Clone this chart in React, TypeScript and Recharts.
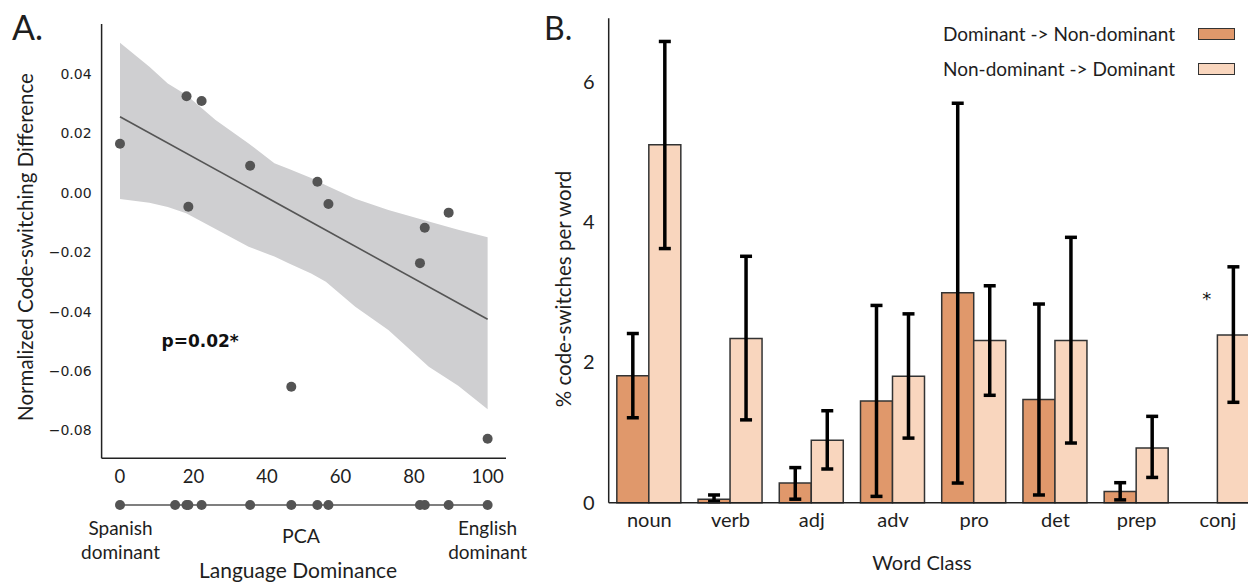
import React from 'react';
import {
  ComposedChart,
  Area,
  Line,
  Scatter,
  XAxis,
  YAxis,
  BarChart,
  Bar,
  ErrorBar,
  Legend,
} from 'recharts';

// ---------- Panel A data ----------
const dominancePCA = [0, 18.1, 22.2, 18.6, 35.4, 53.7, 56.7, 82.9, 89.4, 81.6, 46.6, 100];
const csDifference = [0.0165, 0.0325, 0.0309, -0.0047, 0.0091, 0.0037, -0.0038, -0.0118, -0.0067, -0.0237, -0.0653, -0.0828];
const stripPCA = [0, 15, 18.1, 18.6, 22.2, 35.4, 46.6, 53.7, 56.7, 81.6, 82.9, 89.4, 100];
const bandX = [0, 8, 13, 18, 26, 35, 42, 46, 52, 56, 64, 73, 84, 92, 100];
const bandLow = [-0.0021, -0.0034, -0.0048, -0.0069, -0.0122, -0.0182, -0.0215, -0.0238, -0.0272, -0.03, -0.0384, -0.0462, -0.0586, -0.065, -0.0729];
const bandHigh = [0.0505, 0.0424, 0.0368, 0.033, 0.0245, 0.0166, 0.0099, 0.008, 0.005, 0.0025, -0.002, -0.0058, -0.0097, -0.0125, -0.015];
const fitX = [0, 100];
const fitY = [0.0256, -0.0426];
const xTicksA = [0, 20, 40, 60, 80, 100];
const yTicksA = [-0.08, -0.06, -0.04, -0.02, 0, 0.02, 0.04];

// ---------- Panel B data ----------
const wordClasses = ['noun', 'verb', 'adj', 'adv', 'pro', 'det', 'prep', 'conj'];
const domToNon = [1.81, 0.05, 0.28, 1.45, 2.99, 1.47, 0.16, 0];
const domToNonLow = [1.21, 0.015, 0.05, 0.09, 0.28, 0.11, 0.04, 0];
const domToNonHigh = [2.41, 0.11, 0.5, 2.81, 5.69, 2.83, 0.285, 0];
const nonToDom = [5.1, 2.34, 0.89, 1.8, 2.31, 2.31, 0.78, 2.39];
const nonToDomLow = [3.62, 1.18, 0.48, 0.92, 1.53, 0.85, 0.36, 1.43];
const nonToDomHigh = [6.57, 3.51, 1.31, 2.69, 3.09, 3.78, 1.23, 3.36];
const yTicksB = [0, 2, 4, 6];
const seriesNames = ['Dominant -> Non-dominant', 'Non-dominant -> Dominant'];

const DARK = '#e0986b';
const LIGHT = '#f9d6be';
const GREY = '#545454';
const TEXT = '#1e1e1e';
const FONT = 'Lato, "Open Sans", sans-serif';
const DEJAVU = '"DejaVu Sans", sans-serif';

const bandData = bandX.map((x, i) => {
  const fi = fitX.indexOf(x);
  return { x, band: [bandLow[i], bandHigh[i]], fit: fi >= 0 ? fitY[fi] : null };
});
const pointData = dominancePCA.map((x, i) => ({ x, y: csDifference[i] }));
const stripData = stripPCA.map((x) => ({ x, y: 0 }));

const barData = wordClasses.map((cls, i) => ({
  cls,
  dn: domToNon[i],
  dnErr: [domToNon[i] - domToNonLow[i], domToNonHigh[i] - domToNon[i]],
  nd: nonToDom[i],
  ndErr: [nonToDom[i] - nonToDomLow[i], nonToDomHigh[i] - nonToDom[i]],
}));

const fmtA = (v: number) => v.toFixed(2).replace('-', '\u2212');

const Dot = (props: any) => {
  const { cx, cy } = props;
  if (cx == null || cy == null) return null;
  return <circle cx={cx} cy={cy} r={5} fill={GREY} />;
};

const renderLegend = (props: any) => {
  const payload = props.payload || [];
  return (
    <div style={{ fontFamily: FONT, fontSize: 19, color: TEXT }}>
      {payload.map((e: any, i: number) => (
        <div key={i} style={{ display: 'flex', alignItems: 'center', height: 35 }}>
          <span style={{ width: 245, textAlign: 'right', whiteSpace: 'nowrap' }}>{e.value}</span>
          <span
            style={{
              display: 'inline-block',
              width: 37,
              height: 12,
              marginLeft: 23,
              background: e.color,
              border: '1.5px solid #333',
              boxSizing: 'border-box',
            }}
          />
        </div>
      ))}
    </div>
  );
};

export default function App() {
  return (
    <div
      style={{
        position: 'absolute',
        left: 0,
        top: 0,
        width: 1248,
        height: 584,
        overflow: 'hidden',
        background: '#fff',
        fontFamily: FONT,
      }}
    >
      {/* Panel A main */}
      <div style={{ position: 'absolute', left: 0, top: 0 }}>
        <ComposedChart
          width={520}
          height={500}
          data={bandData}
          margin={{ top: 24, right: 14, bottom: 1.7, left: 41.6 }}
        >
          <XAxis
            type="number"
            dataKey="x"
            domain={[-5, 105]}
            ticks={xTicksA}
            allowDataOverflow
            tickLine={false}
            axisLine={{ stroke: '#222', strokeWidth: 1.5 }}
            tick={{ fill: TEXT, fontSize: 18.5, fontFamily: FONT }}
            tickMargin={6}
            height={40}
          />
          <YAxis
            type="number"
            domain={[-0.0894, 0.0568]}
            ticks={yTicksA}
            allowDataOverflow
            tickFormatter={fmtA}
            tickLine={false}
            axisLine={{ stroke: '#222', strokeWidth: 1.5 }}
            tick={{ fill: TEXT, fontSize: 14, fontFamily: DEJAVU }}
            tickMargin={4}
            width={60}
          />
          <Area
            dataKey="band"
            type="linear"
            fill="#cfcfd1"
            fillOpacity={1}
            stroke="none"
            isAnimationActive={false}
          />
          <Line
            dataKey="fit"
            type="linear"
            stroke="#555"
            strokeWidth={1.6}
            dot={false}
            connectNulls
            isAnimationActive={false}
          />
          <Scatter data={pointData} dataKey="y" fill={GREY} shape={Dot} isAnimationActive={false} />
        </ComposedChart>
      </div>

      {/* Panel A strip (PCA rug) */}
      <div style={{ position: 'absolute', left: 0, top: 495.3 }}>
        <ComposedChart width={520} height={20} margin={{ top: 0, right: 14, bottom: 0, left: 101.6 }}>
          <XAxis type="number" dataKey="x" domain={[-5, 105]} hide />
          <YAxis type="number" domain={[-1, 1]} hide />
          <Scatter
            data={stripData}
            dataKey="y"
            fill={GREY}
            line={{ stroke: '#555', strokeWidth: 1.5 }}
            shape={Dot}
            isAnimationActive={false}
          />
        </ComposedChart>
      </div>

      {/* Panel B */}
      <div style={{ position: 'absolute', left: 530, top: 0 }}>
        <BarChart
          width={740}
          height={584}
          data={barData}
          margin={{ top: 18.3, right: 11.5, bottom: 51.3, left: 38.7 }}
          barCategoryGap="10%"
          barGap={0}
        >
          <XAxis
            dataKey="cls"
            interval={0}
            tickLine={false}
            axisLine={{ stroke: '#222', strokeWidth: 1.5 }}
            tick={{ fill: TEXT, fontSize: 20, fontFamily: FONT }}
            tickMargin={4}
            height={30}
          />
          <YAxis
            type="number"
            domain={[0, 6.9]}
            ticks={yTicksB}
            tickLine={false}
            axisLine={{ stroke: '#222', strokeWidth: 1.5 }}
            tick={{ fill: TEXT, fontSize: 20, fontFamily: FONT }}
            tickMargin={8}
            width={40}
          />
          <Legend
            layout="horizontal"
            verticalAlign="middle"
            align="center"
            wrapperStyle={{ left: 400, top: 16, width: 320, height: 70 }}
            content={renderLegend}
          />
          <Bar
            dataKey="dn"
            name={seriesNames[0]}
            fill={DARK}
            stroke="#333"
            strokeWidth={1.5}
            isAnimationActive={false}
          >
            <ErrorBar dataKey="dnErr" width={6} strokeWidth={3.5} stroke="#000" direction="y" />
          </Bar>
          <Bar
            dataKey="nd"
            name={seriesNames[1]}
            fill={LIGHT}
            stroke="#333"
            strokeWidth={1.5}
            isAnimationActive={false}
          >
            <ErrorBar dataKey="ndErr" width={6} strokeWidth={3.5} stroke="#000" direction="y" />
          </Bar>
        </BarChart>
      </div>

      {/* Annotations */}
      <svg
        width={1248}
        height={584}
        style={{ position: 'absolute', left: 0, top: 0, pointerEvents: 'none' }}
        fontFamily={FONT}
      >
        <text x={12} y={40} fontSize={34} fill={TEXT}>A.</text>
        <text x={544} y={40} fontSize={32} fill={TEXT}>B.</text>
        <text
          x={33}
          y={247}
          fontSize={20.5}
          fill={TEXT}
          textAnchor="middle"
          transform="rotate(-90 33 247)"
        >
          Normalized Code-switching Difference
        </text>
        <text
          x={571}
          y={289}
          fontSize={20.5}
          fill={TEXT}
          textAnchor="middle"
          transform="rotate(-90 571 289)"
        >
          % code-switches per word
        </text>
        <text x={161.5} y={347} fontSize={17} fontWeight="bold" fontFamily={DEJAVU} fill="#111">
          p=0.02*
        </text>
        <text x={120.5} y={535} fontSize={19} fill={TEXT} textAnchor="middle">Spanish</text>
        <text x={120.5} y={558.5} fontSize={19} fill={TEXT} textAnchor="middle">dominant</text>
        <text x={301} y={543} fontSize={19.5} fill={TEXT} textAnchor="middle">PCA</text>
        <text x={487.6} y={535} fontSize={19} fill={TEXT} textAnchor="middle">English</text>
        <text x={487.6} y={558.5} fontSize={19} fill={TEXT} textAnchor="middle">dominant</text>
        <text x={298} y={578} fontSize={21} fill={TEXT} textAnchor="middle">Language Dominance</text>
        <text x={922} y={570} fontSize={20} fill={TEXT} textAnchor="middle">Word Class</text>
        <text x={1206.7} y={305} fontSize={18} fontFamily={DEJAVU} fill="#111" textAnchor="middle">*</text>
      </svg>
    </div>
  );
}
